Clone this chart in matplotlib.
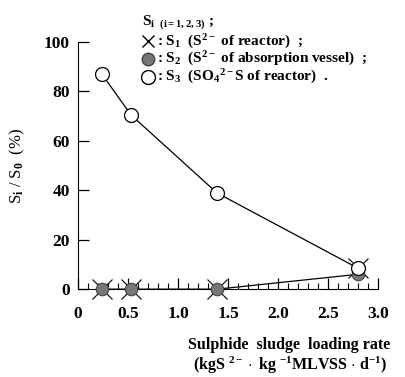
import matplotlib
matplotlib.use("Agg")
import matplotlib.pyplot as plt
from matplotlib.lines import Line2D
from matplotlib.ticker import MultipleLocator

plt.rcParams['font.family'] = ['Liberation Serif', 'DejaVu Serif']
plt.rcParams['font.weight'] = 'bold'
plt.rcParams['mathtext.fontset'] = 'custom'
plt.rcParams['mathtext.rm'] = 'Liberation Serif:bold'
plt.rcParams['mathtext.it'] = 'Liberation Serif:bold'
plt.rcParams['mathtext.bf'] = 'Liberation Serif:bold'

# data
loading_rate = [0.24, 0.53, 1.39, 2.80]
s1_reactor = [0.0, 0.0, 0.0, 8.5]
s2_absorption = [0.0, 0.0, 0.0, 6.0]
s3_sulfate = [86.8, 70.4, 38.9, 8.5]
x_ticks = [0, 0.5, 1.0, 1.5, 2.0, 2.5, 3.0]
x_ticklabels = ['0', '0.5', '1.0', '1.5', '2.0', '2.5', '3.0']
y_ticks = [0, 20, 40, 60, 80, 100]

fig = plt.figure(figsize=(4.05, 3.77), dpi=100)
ax = fig.add_axes([0.193, 0.233, 0.740, 0.656])

ax.plot(loading_rate, s2_absorption, color='black', lw=0.9, zorder=2)
ax.plot(loading_rate, s3_sulfate, color='black', lw=0.9, zorder=2)
ax.plot(loading_rate, s1_reactor, linestyle='none', marker='x', ms=14,
        mew=0.8, color='black', zorder=3, clip_on=False)
ax.plot(loading_rate, s2_absorption, linestyle='none', marker='o', ms=9,
        mfc='#777777', mec='#444444', mew=0.8, zorder=4, clip_on=False)
ax.plot(loading_rate, s3_sulfate, linestyle='none', marker='o', ms=10,
        mfc='white', mec='black', mew=0.9, zorder=5, clip_on=False)

ax.set_xlim(0, 3.0)
ax.set_ylim(0, 100)
ax.set_xticks(x_ticks)
ax.set_xticklabels(x_ticklabels)
ax.xaxis.set_minor_locator(MultipleLocator(0.1))
ax.set_yticks(y_ticks)
ax.spines['top'].set_visible(False)
ax.spines['right'].set_visible(False)
ax.tick_params(axis='both', which='major', direction='in', length=8, width=0.9,
               labelsize=12.5)
ax.tick_params(axis='x', which='minor', direction='in', length=4, width=0.8)
ax.tick_params(axis='x', which='major', pad=12)
ax.tick_params(axis='y', which='major', pad=6)
for lab in ax.get_xticklabels() + ax.get_yticklabels():
    lab.set_fontweight('bold')

ax.set_ylabel(r'S$_i$ / S$_0$  (%)', fontsize=12, labelpad=12)
fig.text(0.715, 0.085, 'Sulphide  sludge  loading rate', ha='center',
         va='center', fontsize=11.5, fontweight='bold')
fig.text(0.715, 0.030, r'(kgS $^{2-}\cdot$ kg $^{-1}$MLVSS $\cdot$ d$^{-1}$)',
         ha='center', va='center', fontsize=11.5, fontweight='bold')

# legend built manually
fig.text(0.350, 0.941, r'S$_{\mathrm{i}\ \ (i=1,2,3)}$ ;', ha='left',
         va='center', fontsize=11, fontweight='bold')
legend_markers = [
    dict(marker='x', ms=9, mew=1.0, color='black'),
    dict(marker='o', ms=9, mfc='#777777', mec='#444444'),
    dict(marker='o', ms=10, mfc='white', mec='black'),
]
labels = [
    r': S$_1$  (S$^{2-}$ of reactor)  ;',
    r': S$_2$  (S$^{2-}$ of absorption vessel)  ;',
    r': S$_3$  (SO$_4$$^{2-}$S of reactor)  .',
]
legend_y = [0.890, 0.843, 0.796]
for mk, lab, yy in zip(legend_markers, labels, legend_y):
    fig.add_artist(Line2D([0.366], [yy], linestyle='none',
                          transform=fig.transFigure, **mk))
    fig.text(0.388, yy, lab, ha='left', va='center', fontsize=11,
             fontweight='bold')

fig.savefig('out.png', dpi=100)
